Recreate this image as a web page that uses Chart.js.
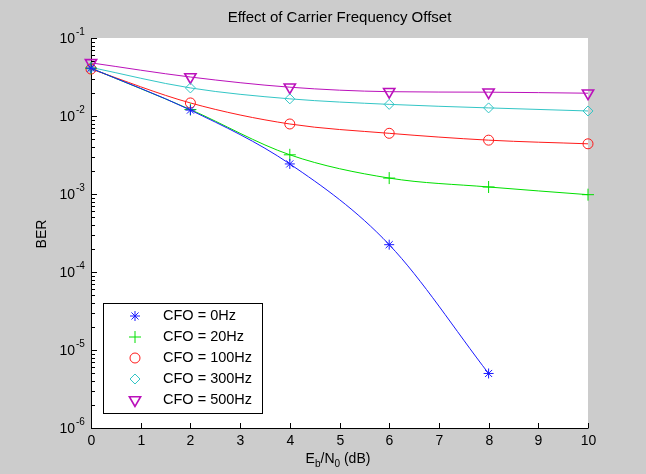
<!DOCTYPE html>
<html>
<head>
<meta charset="utf-8">
<script src="https://cdn.jsdelivr.net/npm/chart.js@4.4.1/dist/chart.umd.min.js"></script>
<style>
    html, body { margin: 0; padding: 0; background: #cccccc; }
    canvas { display: block; }
</style>
</head>
<body>
<canvas id="ber" width="646" height="474"></canvas>
<script>
'use strict';

// ── Data ─────────────────────────────────────────────
const snrDb   = [0, 2, 4, 6, 8, 10];
const xTicks  = [0, 1, 2, 3, 4, 5, 6, 7, 8, 9, 10];
const yDecades = [-6, -5, -4, -3, -2, -1];

const ber0Hz   = [0.0410, 0.0119, 0.00243, 0.000224, 5.0e-6];
const ber20Hz  = [0.0410, 0.0121, 0.00318, 0.00160, 0.00123, 0.00098];
const ber100Hz = [0.0400, 0.0147, 0.0079, 0.0060, 0.0049, 0.0044];
const ber300Hz = [0.0420, 0.0229, 0.0166, 0.0141, 0.0127, 0.0116];
const ber500Hz = [0.0480, 0.0316, 0.0234, 0.0205, 0.0202, 0.0196];

const seriesLabels = ['CFO = 0Hz', 'CFO = 20Hz', 'CFO = 100Hz', 'CFO = 300Hz', 'CFO = 500Hz'];

const FONT = '"Liberation Sans", Arial, Helvetica, sans-serif';

function series(label, values, color, style, radius, extra = {}) {
    return Object.assign({
        label,
        data: values.map((v, i) => ({ x: snrDb[i], y: v })),
        borderColor: color,
        backgroundColor: 'rgba(0,0,0,0)',
        borderWidth: 1,
        pointStyle: style,
        pointRadius: radius,
        pointBorderColor: color,
        pointBackgroundColor: 'rgba(0,0,0,0)',
        pointBorderWidth: 1,
        cubicInterpolationMode: 'monotone',
        clip: false,
    }, extra);
}

const datasets = [
    series(seriesLabels[0], ber0Hz,   '#1a1aff', 'star',     5),
    series(seriesLabels[1], ber20Hz,  '#00e000', 'cross',    6),
    series(seriesLabels[2], ber100Hz, '#ff1a1a', 'circle',   5),
    series(seriesLabels[3], ber300Hz, '#33c6c6', 'rectRot',  5),
    series(seriesLabels[4], ber500Hz, '#bb11bb', 'triangle', 6.5, { pointRotation: 180, pointBorderWidth: 1.6 }),
];

// ── MATLAB-style axes, labels and legend ─────────────
function drawMarker(ctx, ds, x, y) {
    const opts = {
        pointStyle: ds.pointStyle,
        radius: ds.pointRadius,
        rotation: ds.pointRotation || 0,
        borderWidth: ds.pointBorderWidth,
    };
    ctx.save();
    ctx.strokeStyle = ds.pointBorderColor;
    ctx.fillStyle = ds.pointBackgroundColor;
    ctx.lineWidth = ds.pointBorderWidth;
    Chart.helpers.drawPoint(ctx, opts, x, y);
    ctx.restore();
}

const matlabAxes = {
    id: 'matlabAxes',
    beforeDraw(chart) {
        const { ctx, chartArea: a } = chart;
        ctx.save();
        ctx.fillStyle = '#cccccc';
        ctx.fillRect(0, 0, chart.width, chart.height);
        ctx.fillStyle = '#ffffff';
        ctx.fillRect(a.left, a.top, a.right - a.left, a.bottom - a.top);
        ctx.restore();
    },
    beforeDatasetsDraw(chart) {
        const { ctx, chartArea: a, scales } = chart;
        const xs = scales.x, ys = scales.y;
        ctx.save();
        ctx.strokeStyle = '#000000';
        ctx.fillStyle = '#000000';
        ctx.lineWidth = 1;

        // axis lines (box off)
        ctx.beginPath();
        ctx.moveTo(a.left + 0.5, a.top);
        ctx.lineTo(a.left + 0.5, a.bottom + 0.5);
        ctx.lineTo(a.right + 0.5, a.bottom + 0.5);
        ctx.stroke();

        // x ticks + labels
        ctx.font = '14px ' + FONT;
        ctx.textAlign = 'center';
        ctx.textBaseline = 'middle';
        xTicks.forEach(t => {
            const px = Math.round(xs.getPixelForValue(t)) + 0.5;
            ctx.beginPath();
            ctx.moveTo(px, a.bottom);
            ctx.lineTo(px, a.bottom - 5);
            ctx.stroke();
            ctx.fillText(String(t), px, a.bottom + 13);
        });

        // y major + minor ticks
        yDecades.forEach(k => {
            const py = Math.round(ys.getPixelForValue(Math.pow(10, k))) + 0.5;
            ctx.beginPath();
            ctx.moveTo(a.left, py);
            ctx.lineTo(a.left + 6, py);
            ctx.stroke();
            if (k < -1) {
                for (let m = 2; m <= 9; m++) {
                    const my = Math.round(ys.getPixelForValue(m * Math.pow(10, k))) + 0.5;
                    ctx.beginPath();
                    ctx.moveTo(a.left, my);
                    ctx.lineTo(a.left + 4, my);
                    ctx.stroke();
                }
            }
            // label 10^k
            ctx.font = '14px ' + FONT;
            ctx.textAlign = 'right';
            ctx.textBaseline = 'middle';
            ctx.fillText('10', 75, py + 1);
            ctx.font = '10px ' + FONT;
            ctx.textAlign = 'left';
            ctx.fillText(String(k), 76, py - 6);
        });

        // title
        ctx.font = '15px ' + FONT;
        ctx.textAlign = 'center';
        ctx.textBaseline = 'middle';
        ctx.fillText('Effect of Carrier Frequency Offset', (a.left + a.right) / 2, 18);

        // y title
        ctx.save();
        ctx.translate(42, 234);
        ctx.rotate(-Math.PI / 2);
        ctx.font = '14px ' + FONT;
        ctx.fillText('BER', 0, 0);
        ctx.restore();

        // x title: E_b/N_0 (dB)
        const parts = [
            ['E', 14, 0], ['b', 10, 4], ['/N', 14, 0], ['0', 10, 4], [' (dB)', 14, 0],
        ];
        ctx.textAlign = 'left';
        ctx.textBaseline = 'alphabetic';
        let total = 0;
        parts.forEach(([s, size]) => { ctx.font = size + 'px ' + FONT; total += ctx.measureText(s).width; });
        let cx = 338 - total / 2;
        parts.forEach(([s, size, dy]) => {
            ctx.font = size + 'px ' + FONT;
            ctx.fillText(s, cx, 463 + dy);
            cx += ctx.measureText(s).width;
        });
        ctx.restore();
    },
    afterDatasetsDraw(chart) {
        const { ctx } = chart;
        const box = { left: 103, top: 303, right: 262, bottom: 413 };
        ctx.save();
        ctx.fillStyle = '#ffffff';
        ctx.fillRect(box.left, box.top, box.right - box.left, box.bottom - box.top);
        ctx.strokeStyle = '#000000';
        ctx.lineWidth = 1;
        ctx.strokeRect(box.left + 0.5, box.top + 0.5, box.right - box.left, box.bottom - box.top);
        ctx.font = '14.5px ' + FONT;
        ctx.textAlign = 'left';
        ctx.textBaseline = 'middle';
        chart.data.datasets.forEach((ds, i) => {
            const y = 316 + i * 21;
            drawMarker(ctx, ds, 135, y);
            ctx.fillStyle = '#000000';
            ctx.fillText(ds.label, 163, y);
        });
        ctx.restore();
    },
};

new Chart(document.getElementById('ber'), {
    type: 'line',
    data: { datasets },
    options: {
        responsive: false,
        animation: false,
        layout: { padding: { left: 91, top: 38, right: 58, bottom: 46 } },
        plugins: {
            legend: { display: false },
            title: { display: false },
            tooltip: { enabled: false },
        },
        scales: {
            x: { type: 'linear', min: 0, max: 10, display: false },
            y: { type: 'logarithmic', min: 1e-6, max: 1e-1, display: false },
        },
    },
    plugins: [matlabAxes],
});
</script>
</body>
</html>
